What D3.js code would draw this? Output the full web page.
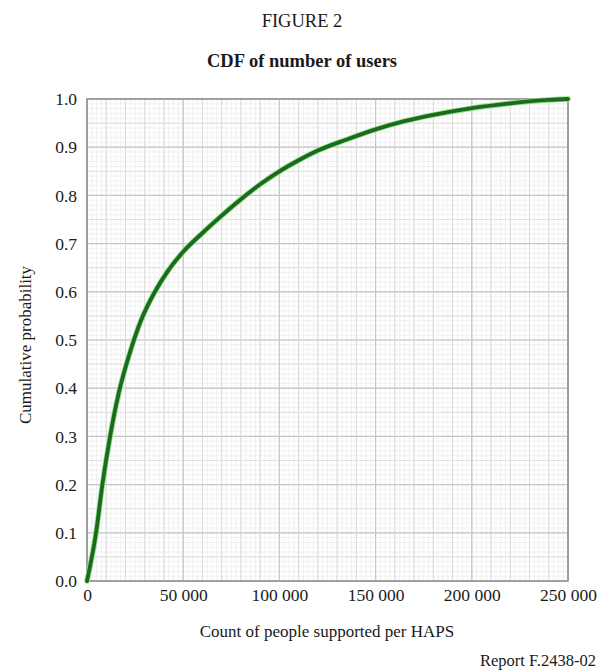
<!DOCTYPE html>
<html>
<head>
<meta charset="utf-8">
<script src="https://cdn.jsdelivr.net/npm/d3@7"></script>
<style>
  html, body { margin: 0; padding: 0; background: #ffffff; }
  svg { display: block; }
  text { font-family: "Liberation Serif", "Times New Roman", serif; fill: #1a1a1a; }
</style>
</head>
<body>
<svg id="chart" width="604" height="672"></svg>
<script>
// ---- Data ----
const countValues = [0, 4700, 8000, 12000, 16500, 22000, 28000, 35000, 42000, 50000, 60000, 70000, 80000, 90000, 100000, 110000, 120000, 135000, 150000, 165000, 180000, 200000, 220000, 240000, 250000];
const cdfValues   = [0, 0.10, 0.20, 0.30, 0.39, 0.47, 0.54, 0.598, 0.643, 0.683, 0.722, 0.758, 0.792, 0.823, 0.850, 0.873, 0.893, 0.916, 0.937, 0.954, 0.967, 0.981, 0.991, 0.998, 1.0];
const xTickValues = [0, 50000, 100000, 150000, 200000, 250000];
const xTickLabels = ["0", "50 000", "100 000", "150 000", "200 000", "250 000"];
const yTickValues = [0, 0.1, 0.2, 0.3, 0.4, 0.5, 0.6, 0.7, 0.8, 0.9, 1.0];
const yTickLabels = ["0.0", "0.1", "0.2", "0.3", "0.4", "0.5", "0.6", "0.7", "0.8", "0.9", "1.0"];
const figureLabel = "FIGURE 2";
const chartTitle = "CDF of number of users";
const xAxisTitle = "Count of people supported per HAPS";
const yAxisTitle = "Cumulative probability";
const reportLabel = "Report F.2438-02";

const data = countValues.map((c, i) => ({ x: c, y: cdfValues[i] }));

// ---- Layout ----
const svg = d3.select("#chart");
const plot = { left: 87, right: 568, top: 99, bottom: 581 };

const x = d3.scaleLinear().domain([0, 250000]).range([plot.left, plot.right]);
const y = d3.scaleLinear().domain([0, 1]).range([plot.bottom, plot.top]);

// Titles
svg.append("text").attr("x", 302).attr("y", 27).attr("text-anchor", "middle")
  .attr("font-size", 18.5).text(figureLabel);
svg.append("text").attr("x", 302).attr("y", 67).attr("text-anchor", "middle")
  .attr("font-size", 18.5).attr("font-weight", "bold").text(chartTitle);

// Plot background
svg.append("rect").attr("x", plot.left).attr("y", plot.top)
  .attr("width", plot.right - plot.left).attr("height", plot.bottom - plot.top)
  .attr("fill", "#ffffff");

const grid = svg.append("g");
// minor grid
grid.selectAll("line.vminor").data(d3.range(0, 250001, 2500)).join("line")
  .attr("x1", d => x(d)).attr("x2", d => x(d)).attr("y1", plot.top).attr("y2", plot.bottom)
  .attr("stroke", "#eeeeee").attr("stroke-width", 0.8);
grid.selectAll("line.hminor").data(d3.range(0, 101, 1).map(d => d / 100)).join("line")
  .attr("y1", d => y(d)).attr("y2", d => y(d)).attr("x1", plot.left).attr("x2", plot.right)
  .attr("stroke", "#eeeeee").attr("stroke-width", 0.8);
// medium grid
grid.selectAll("line.vmed").data(d3.range(0, 250001, 10000)).join("line")
  .attr("x1", d => x(d)).attr("x2", d => x(d)).attr("y1", plot.top).attr("y2", plot.bottom)
  .attr("stroke", "#dadada").attr("stroke-width", 1);
grid.selectAll("line.hmed").data(d3.range(0, 21, 1).map(d => d / 20)).join("line")
  .attr("y1", d => y(d)).attr("y2", d => y(d)).attr("x1", plot.left).attr("x2", plot.right)
  .attr("stroke", "#e0e0e0").attr("stroke-width", 1);
// major grid
grid.selectAll("line.vmaj").data(xTickValues).join("line")
  .attr("x1", d => x(d)).attr("x2", d => x(d)).attr("y1", plot.top).attr("y2", plot.bottom)
  .attr("stroke", "#c8c8c8").attr("stroke-width", 1.2);
grid.selectAll("line.hmaj").data(yTickValues).join("line")
  .attr("y1", d => y(d)).attr("y2", d => y(d)).attr("x1", plot.left).attr("x2", plot.right)
  .attr("stroke", "#c8c8c8").attr("stroke-width", 1.2);

// Border
svg.append("rect").attr("x", plot.left).attr("y", plot.top)
  .attr("width", plot.right - plot.left).attr("height", plot.bottom - plot.top)
  .attr("fill", "none").attr("stroke", "#8c8c8c").attr("stroke-width", 1.5);

// Axes (labels only, via d3 axes)
const xAxis = d3.axisBottom(x).tickValues(xTickValues)
  .tickFormat((d, i) => xTickLabels[i]).tickSize(0).tickPadding(8);
const gx = svg.append("g").attr("transform", `translate(0,${plot.bottom})`).call(xAxis);
gx.select(".domain").remove();
gx.selectAll("text").attr("font-size", 17.5).attr("font-family", "Liberation Serif, serif").attr("fill", "#1a1a1a");

const yAxis = d3.axisLeft(y).tickValues(yTickValues)
  .tickFormat((d, i) => yTickLabels[i]).tickSize(0).tickPadding(10);
const gy = svg.append("g").attr("transform", `translate(${plot.left},0)`).call(yAxis);
gy.select(".domain").remove();
gy.selectAll("text").attr("font-size", 17.5).attr("font-family", "Liberation Serif, serif").attr("fill", "#1a1a1a");

// Curve
const line = d3.line().x(d => x(d.x)).y(d => y(d.y)).curve(d3.curveMonotoneX);
svg.append("path").datum(data).attr("d", line)
  .attr("fill", "none").attr("stroke", "#8ee08a").attr("stroke-width", 5.5)
  .attr("stroke-linejoin", "round").attr("stroke-linecap", "round");
svg.append("path").datum(data).attr("d", line)
  .attr("fill", "none").attr("stroke", "#1d6a1f").attr("stroke-width", 3.8)
  .attr("stroke-linejoin", "round").attr("stroke-linecap", "round");

// Axis titles
svg.append("text").attr("x", 327).attr("y", 637).attr("text-anchor", "middle")
  .attr("font-size", 17).text(xAxisTitle);
svg.append("text").attr("transform", "translate(31,345) rotate(-90)")
  .attr("text-anchor", "middle").attr("font-size", 17).text(yAxisTitle);

// Report label
svg.append("text").attr("x", 596).attr("y", 666).attr("text-anchor", "end")
  .attr("font-size", 16.5).text(reportLabel);
</script>
</body>
</html>
